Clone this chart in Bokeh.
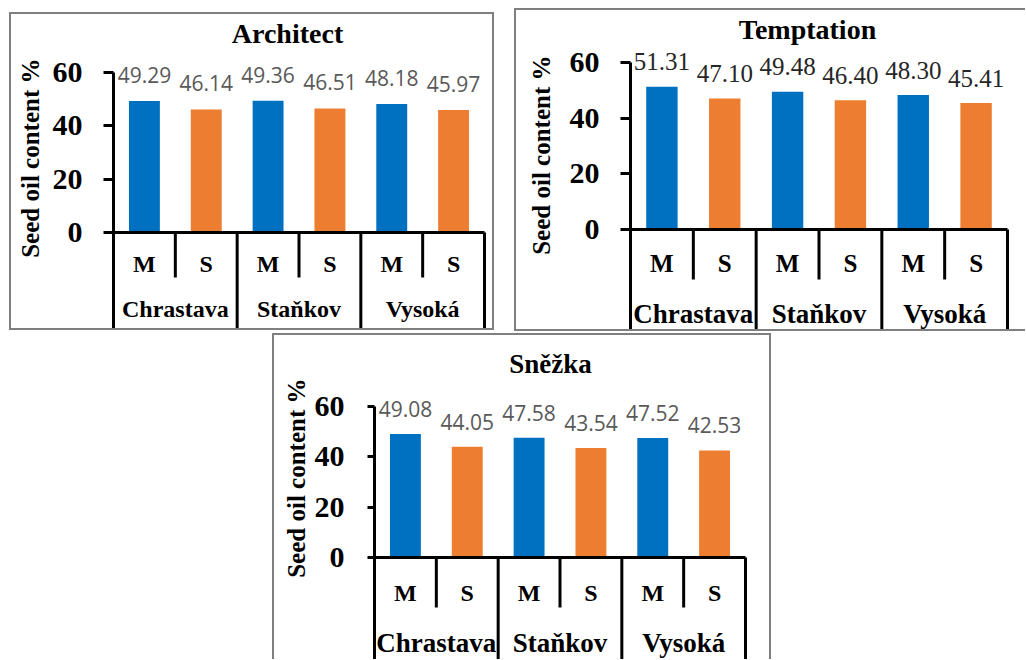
import math
from bokeh.plotting import figure
from bokeh.models import FixedTicker, Range1d, Spacer, Title
from bokeh.layouts import row, column
from bokeh.core.properties import value
from bokeh.embed import file_html
from bokeh.resources import INLINE

# ---------------- data ----------------
locations = ["Chrastava", "Staňkov", "Vysoká"]
treatments = ["M", "S"]
architect = [49.29, 46.14, 49.36, 46.51, 48.18, 45.97]
temptation = [51.31, 47.10, 49.48, 46.40, 48.30, 45.41]
snezka = [49.08, 44.05, 47.58, 43.54, 47.52, 42.53]
y_ticks = [0, 20, 40, 60]
y_label = "Seed oil content %"
titles = ["Architect", "Temptation", "Sněžka"]
bar_colors = ["#0070C0", "#ED7D31"]

SERIF = "Liberation Serif"
SANS = "Open Sans"
BW = 2
BORDER = f"{BW}px solid #7f7f7f"

# ---------------- geometry (page pixels) ----------------
geo_a = dict(left=9, top=12, W=485, H=318, bl=BW, bt=BW,
             ax=113, x6=484, y0=232, y60=72,
             short=277, ms_y=263, loc_y=308, tx=287, ty=33, ly_top=58, ly_so=8,
             tick_end=103, standoff=21, lab_off=26,
             f_title=28, f_tick=30, f_loc=24, f_ms=24, f_ylab=25,
             d_font=SANS, d_size=21, d_color="#595959",
             css={"border": BORDER})
geo_t = dict(left=514, top=8, W=511, H=323, bl=BW, bt=BW,
             ax=630, x6=1007, y0=229, y60=62,
             short=279, ms_y=263, loc_y=313, tx=807, ty=29, ly_top=55, ly_so=20,
             tick_end=620, standoff=21, lab_off=25,
             f_title=28, f_tick=30, f_loc=27, f_ms=25, f_ylab=25,
             d_font=SERIF, d_size=25, d_color="#262626",
             css={"border-left": BORDER, "border-top": BORDER, "border-bottom": BORDER})
geo_s = dict(left=272, top=333, W=499, H=326, bl=BW, bt=BW,
             ax=374, x6=745, y0=557, y60=406,
             short=607, ms_y=592, loc_y=642, tx=550, ty=363, ly_top=378, ly_so=0,
             tick_end=367, standoff=23, lab_off=25,
             f_title=27, f_tick=30, f_loc=27, f_ms=24, f_ylab=25,
             d_font=SANS, d_size=21, d_color="#595959",
             css={"border-left": BORDER, "border-top": BORDER, "border-right": BORDER})


def make_panel(title, vals, g):
    n = len(locations) * len(treatments)
    ox = g["left"] + g["bl"]
    oy = g["top"] + g["bt"]
    cw = (g["x6"] - g["ax"]) / n
    ppu = (g["y0"] - g["y60"]) / y_ticks[-1]
    fl = g["ax"] - 3
    fr = g["x6"] + 6
    ft = oy
    fb = oy + g["H"]
    xr = Range1d((fl - g["ax"]) / cw, (fr - g["ax"]) / cw)
    yr = Range1d(-(fb - g["y0"]) / ppu, (g["y0"] - ft) / ppu)

    p = figure(width=g["W"], height=g["H"], x_range=xr, y_range=yr,
               x_axis_location=None, y_axis_location="left",
               output_backend="svg", toolbar_location=None,
               min_border_left=fl - ox, min_border_right=ox + g["W"] - fr,
               min_border_top=0, min_border_bottom=0)
    p.styles = g["css"]
    p.grid.visible = False
    p.outline_line_color = None

    ax = p.yaxis[0]
    ax.ticker = FixedTicker(ticks=y_ticks)
    ax.axis_line_color = None
    ax.major_tick_in = 3
    ax.major_tick_out = fl - g["tick_end"]
    ax.major_tick_line_width = 3
    ax.major_tick_line_color = "black"
    ax.minor_tick_line_color = None
    ax.major_label_standoff = g["standoff"]
    ax.major_label_text_font = SERIF
    ax.major_label_text_font_style = "bold"
    ax.major_label_text_font_size = f"{g['f_tick']}px"
    ax.major_label_text_color = "black"

    # y-axis title as a left-side title, its top end placed as in the reference
    p.add_layout(Title(text=y_label, align="right", vertical_align="top",
                       offset=g["ly_top"] - ft, standoff=g["ly_so"],
                       text_font=SERIF, text_font_style="bold",
                       text_font_size=f"{g['f_ylab']}px", text_color="black"), "left")

    xs = [i + 0.5 for i in range(n)]
    cols = [bar_colors[i % len(treatments)] for i in range(n)]
    p.vbar(x=xs, top=vals, bottom=0, width=0.5, color=cols, line_color=None)

    # axis lines
    p.segment(x0=[0, 0], y0=[yr.start, 0], x1=[0, n], y1=[y_ticks[-1], 0],
              line_color="black", line_width=3)
    # category separators
    short_v = -(g["short"] - g["y0"]) / ppu
    sx, sy1 = [], []
    for k in range(1, n + 1):
        sx.append(k)
        sy1.append(short_v if k % len(treatments) else yr.start)
    p.segment(x0=sx, y0=[0] * len(sx), x1=sx, y1=sy1, line_color="black", line_width=3)

    # data labels
    p.text(x=xs, y=[v + g["lab_off"] / ppu for v in vals],
           text=[f"{v:.2f}" for v in vals],
           text_font=value(g["d_font"]), text_font_size=value(f"{g['d_size']}px"),
           text_color=g["d_color"], text_align="center", text_baseline="middle")

    # treatment labels
    p.text(x=xs, y=[-(g["ms_y"] - g["y0"]) / ppu] * n,
           text=[treatments[i % len(treatments)] for i in range(n)],
           text_font=value(SERIF), text_font_style="bold",
           text_font_size=value(f"{g['f_ms']}px"), text_color="black",
           text_align="center", text_baseline="middle")
    # location labels
    m = len(treatments)
    p.text(x=[m * j + m / 2 for j in range(len(locations))],
           y=[-(g["loc_y"] - g["y0"]) / ppu] * len(locations),
           text=locations,
           text_font=value(SERIF), text_font_style="bold",
           text_font_size=value(f"{g['f_loc']}px"), text_color="black",
           text_align="center", text_baseline="middle")
    # chart title
    p.text(x=[(g["tx"] - g["ax"]) / cw], y=[(g["y0"] - g["ty"]) / ppu], text=[title],
           text_font=value(SERIF), text_font_style="bold",
           text_font_size=value(f"{g['f_title']}px"), text_color="black",
           text_align="center", text_baseline="middle")
    return p


pA = make_panel(titles[0], architect, geo_a)
pT = make_panel(titles[1], temptation, geo_t)
pS = make_panel(titles[2], snezka, geo_s)

top = row(Spacer(width=geo_a["left"], height=1),
          column(Spacer(width=1, height=geo_a["top"]), pA),
          Spacer(width=geo_t["left"] - geo_a["left"] - geo_a["W"], height=1),
          column(Spacer(width=1, height=geo_t["top"]), pT))
row1_h = max(geo_a["top"] + geo_a["H"], geo_t["top"] + geo_t["H"])
bottom = row(Spacer(width=geo_s["left"], height=1), pS)
layout = column(top, Spacer(width=1, height=geo_s["top"] - row1_h), bottom)

open("out.html", "w").write(file_html(layout, INLINE))
